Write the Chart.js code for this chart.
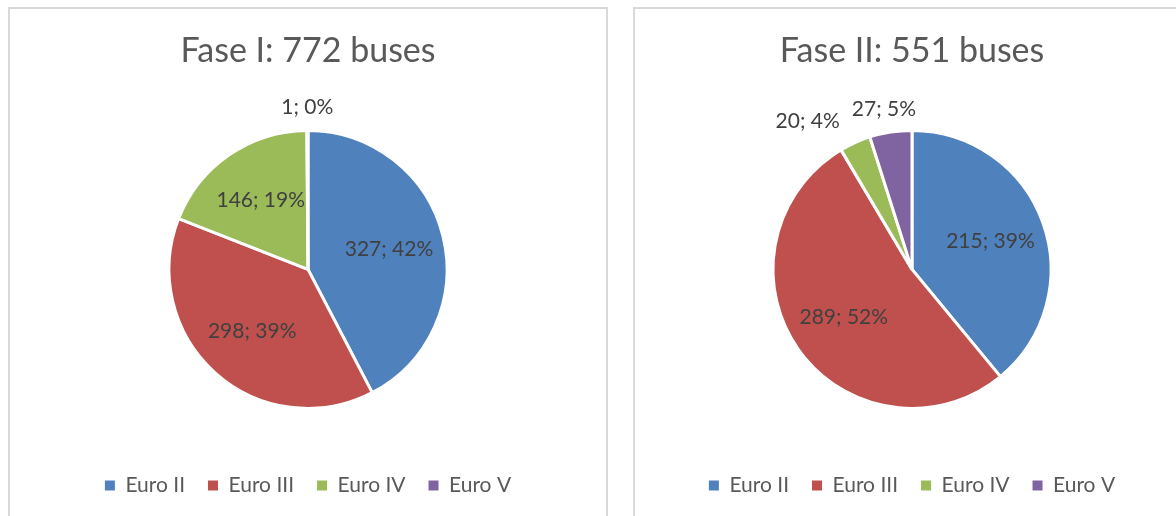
<!DOCTYPE html>
<html><head><meta charset="utf-8">
<script src="https://cdn.jsdelivr.net/npm/chart.js@4.4.1/dist/chart.umd.min.js"></script>
<style>
html,body{margin:0;padding:0;background:#fff;overflow:hidden;width:1176px;height:516px;position:relative}
.panel{position:absolute;top:7px;height:560px;border:2px solid #d9d9d9;box-sizing:border-box}
canvas{position:absolute}
</style></head><body>
<div class="panel" style="left:8px;width:600px"></div>
<div class="panel" style="left:633px;width:600px"></div>
<canvas id="c1" width="600" height="509" style="left:8px;top:7px;width:600px;height:509px"></canvas>
<canvas id="c2" width="558" height="509" style="left:633px;top:7px;width:558px;height:509px"></canvas>
<script>
const categories = ['Euro II', 'Euro III', 'Euro IV', 'Euro V'];
const fase1Title = 'Fase I: 772 buses';
const fase1Values = [327, 298, 146, 1];
const fase2Title = 'Fase II: 551 buses';
const fase2Values = [215, 289, 20, 27];
const sliceColors = ['#4F81BD', '#C0504D', '#9BBB59', '#8064A2'];

const FONT = 'Lato, "Open Sans", sans-serif';

const sliceLabels = {
  id: 'sliceLabels',
  afterDatasetsDraw(chart) {
    const ctx = chart.ctx;
    const meta = chart.getDatasetMeta(0);
    const data = chart.data.datasets[0].data;
    const total = data.reduce((a, b) => a + b, 0);
    const size = 21;
    ctx.save();
    ctx.font = size + 'px ' + FONT;
    ctx.fillStyle = '#404040';
    ctx.textAlign = 'center';
    ctx.textBaseline = 'middle';
    const outside = [];
    meta.data.forEach((arc, i) => {
      const p = arc.getProps(['x', 'y', 'startAngle', 'endAngle', 'outerRadius'], true);
      const mid = (p.startAngle + p.endAngle) / 2;
      const frac = data[i] / total;
      const text = data[i] + '; ' + Math.round(frac * 100) + '%';
      const w = ctx.measureText(text).width, h = size + 2;
      const dx = Math.cos(mid), dy = Math.sin(mid);
      if (frac >= 0.1) {
        ctx.fillText(text, p.x + dx * p.outerRadius * 0.6, p.y + dy * p.outerRadius * 0.6);
      } else {
        const r = p.outerRadius + 12;
        outside.push({text, w, h, cx: p.x + dx * r + dx * w / 2, cy: p.y + dy * r + dy * h / 2});
      }
    });
    for (let i = outside.length - 1; i >= 0; i--) {
      const a = outside[i];
      for (let j = i + 1; j < outside.length; j++) {
        const b = outside[j];
        const ox = (a.w + b.w) / 2 + 12 - Math.abs(a.cx - b.cx);
        const oy = (a.h + b.h) / 2 - Math.abs(a.cy - b.cy);
        if (ox > 0 && oy > 0) a.cx += (a.cx < b.cx ? -ox : ox);
      }
    }
    outside.forEach(l => ctx.fillText(l.text, l.cx, l.cy));
    ctx.restore();
  }
};

function makeChart(id, title, values) {
  return new Chart(document.getElementById(id), {
    type: 'pie',
    data: {
      labels: categories,
      datasets: [{
        data: values,
        backgroundColor: sliceColors,
        borderColor: '#ffffff',
        borderWidth: 3,
        radius: 139
      }]
    },
    options: {
      responsive: false,
      animation: false,
      devicePixelRatio: 1,
      layout: {padding: {top: 0, bottom: 10, left: 0, right: 0}},
      plugins: {
        tooltip: {enabled: false},
        title: {
          display: true,
          text: title,
          color: '#595959',
          font: {family: FONT, size: 34, weight: '400', lineHeight: 1.2},
          padding: {top: 24, bottom: 58}
        },
        legend: {
          position: 'bottom',
          title: {display: true, text: '', padding: {top: 33, bottom: 0}, font: {size: 10, lineHeight: 1}},
          labels: {
            color: '#595959',
            font: {family: FONT, size: 21},
            boxWidth: 10,
            boxHeight: 10,
            padding: 23,
            generateLabels(chart) {
              const items = Chart.controllers.pie.overrides.plugins.legend.labels.generateLabels(chart);
              return items.map(it => Object.assign(it, {lineWidth: 0, strokeStyle: it.fillStyle}));
            }
          }
        }
      }
    },
    plugins: [sliceLabels]
  });
}

function draw() {
  makeChart('c1', fase1Title, fase1Values);
  makeChart('c2', fase2Title, fase2Values);
}
if (document.fonts && document.fonts.load) {
  Promise.all([document.fonts.load('21px Lato'), document.fonts.load('34px Lato')]).then(draw, draw);
} else { draw(); }
</script>
</body></html>
